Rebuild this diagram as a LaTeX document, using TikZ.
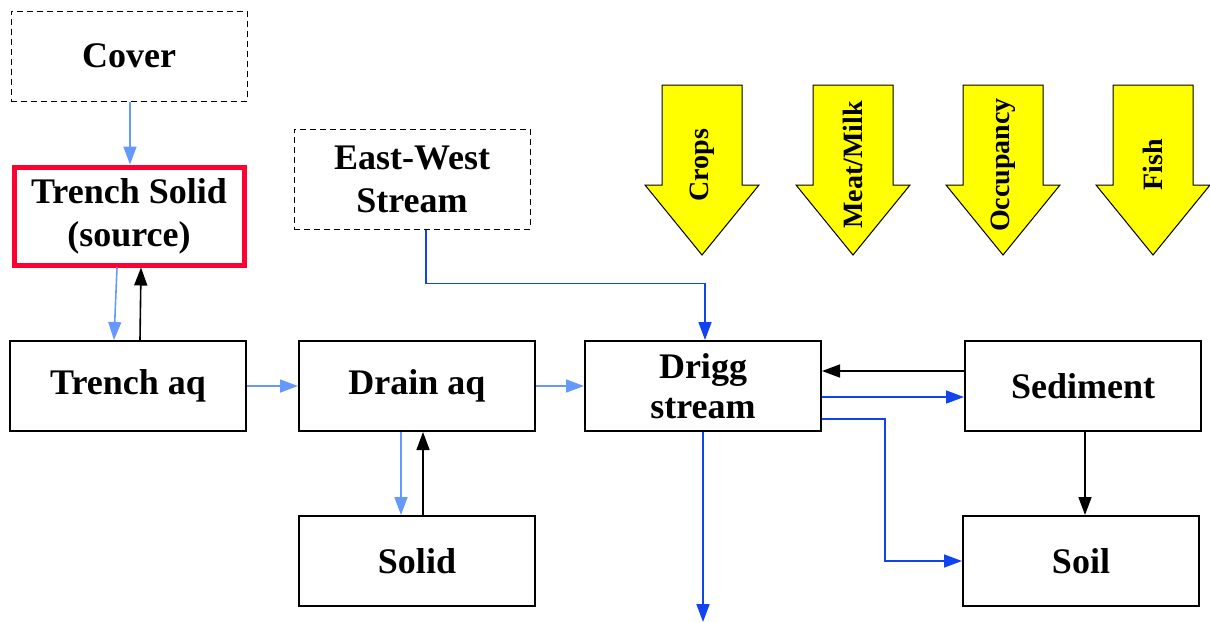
\documentclass[tikz,border=0pt]{standalone}
\usepackage{fontspec}
\setmainfont{Liberation Serif}
\usetikzlibrary{arrows.meta,calc}

\definecolor{lblue}{HTML}{6699FF}
\definecolor{dblue}{HTML}{1144EE}
\definecolor{srcred}{HTML}{FF0033}
\definecolor{pathyellow}{HTML}{FFFF00}

\tikzset{
  box/.style={draw,line width=1pt,minimum width=118pt,minimum height=45pt,align=center,
    font=\fontsize{18}{21.5}\selectfont\bfseries},
  dashbox/.style={box,line width=0.5pt,dash pattern=on 3pt off 2pt},
  srcbox/.style={box,draw=srcred,line width=2.5pt,minimum width=115pt,minimum height=49pt},
  lflow/.style={draw=lblue,line width=0.8pt,-{Triangle[length=9pt,width=6.5pt]}},
  dflow/.style={draw=dblue,line width=0.8pt,-{Triangle[length=9pt,width=6.5pt]}},
  kflow/.style={draw=black,line width=0.8pt,-{Triangle[length=9pt,width=6.5pt]}},
  pathway/.style={draw=black,line width=0.5pt,fill=pathyellow},
  pathlabel/.style={rotate=90,font=\fontsize{14}{16}\selectfont\bfseries}
}

\begin{document}
\begin{tikzpicture}[x=0.5pt,y=-0.5pt]
\useasboundingbox (0,0) rectangle (1210,622);

% Compartments
\node[dashbox] (cover) at (129,56) {Cover};
\node[srcbox] (trenchsolid) at (129,216) {Trench Solid\\(source)};
\node[box] (trenchaq) at (128,386) {Trench aq};
\node[dashbox,minimum height=50pt] (eastwest) at (412,179) {East-West\\Stream};
\node[box] (drainaq) at (417,386) {Drain aq};
\node[box] (solid) at (417,561) {Solid};
\node[box,font=\fontsize{18}{20}\selectfont\bfseries] (drigg) at (703,386) {Drigg\\stream};
\node[box] (sediment) at (1083,386) {Sediment};
\node[box] (soil) at (1081,561) {Soil};

% Exposure pathways
\foreach \x/\lbl in {702/Crops,853/{Meat/Milk},1003/Occupancy,1153/Fish}{
  \draw[pathway] (\x-40,85) -- (\x+40,85) -- (\x+40,185) -- (\x+57,185)
    -- (\x,255) -- (\x-57,185) -- (\x-40,185) -- cycle;
  \node[pathlabel] (lbl\x) at (\x,165) {\lbl};
}

% Flows
\draw[lflow] ([xshift=0.5pt]cover.south) -- ([xshift=0.5pt]trenchsolid.north);
\draw[lflow] ([xshift=-6pt]trenchsolid.south) -- ([xshift=-7pt]trenchaq.north);
\draw[kflow] ([xshift=6pt]trenchaq.north) -- ([xshift=6pt]trenchsolid.south);
\draw[lflow] (trenchaq.east) -- (drainaq.west);
\draw[lflow] (drainaq.east) -- (drigg.west);
\draw[lflow] ([xshift=-8pt]drainaq.south) -- ([xshift=-8pt]solid.north);
\draw[kflow] ([xshift=3pt]solid.north) -- ([xshift=3pt]drainaq.south);
\draw[dflow] ([xshift=7pt]eastwest.south) -- ++(0,54) -| ([xshift=1pt]drigg.north);
\draw[kflow] ([yshift=7.5pt]sediment.west) -- ([yshift=7.5pt]drigg.east);
\draw[dflow] ([yshift=-5.5pt]drigg.east) -- ([yshift=-5.5pt]sediment.west);
\coordinate (bend) at (885,561);
\draw[dflow] ([yshift=-16.5pt]drigg.east) -| (bend) -- (soil.west);
\draw[kflow] ([xshift=1pt]sediment.south) -- ([xshift=1pt]sediment.south |- soil.north);
\coordinate (outflow) at (703,622);
\draw[dflow] (drigg.south) -- (outflow);
\end{tikzpicture}
\end{document}
